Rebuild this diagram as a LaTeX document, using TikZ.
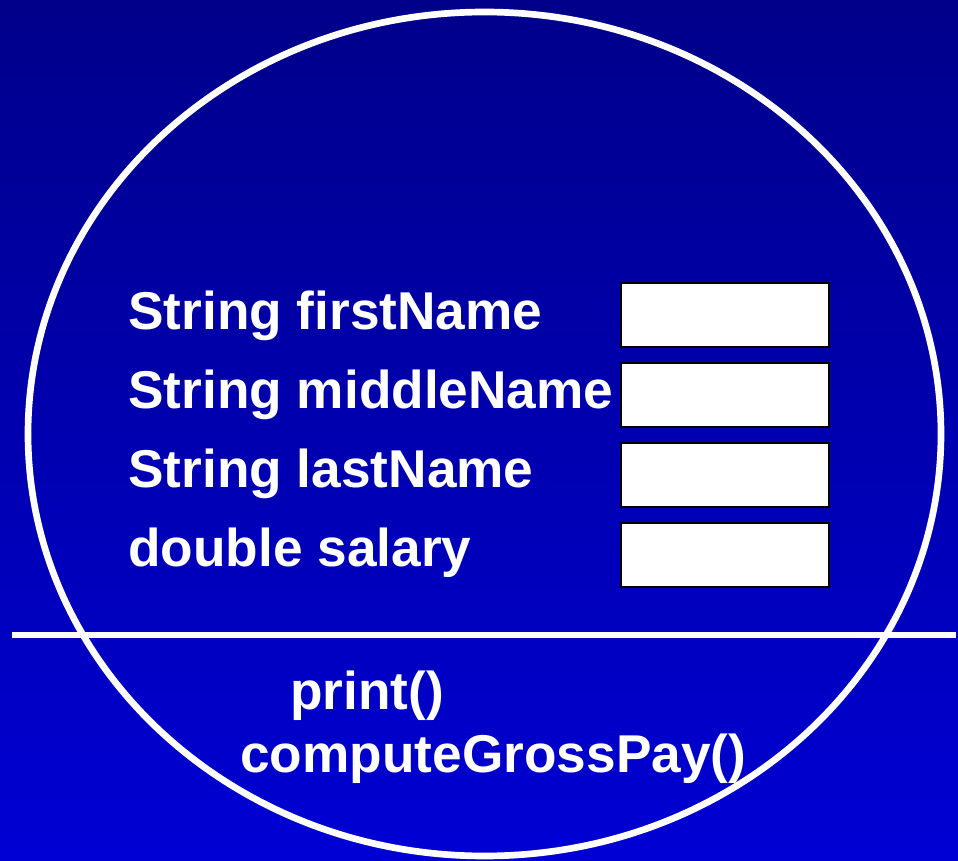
\documentclass[tikz,border=0pt]{standalone}
\usepackage{fontspec}
\setmainfont{Liberation Sans}
\usetikzlibrary{positioning}
\definecolor{slidenavy}{RGB}{0,0,138}
\definecolor{slideblue}{RGB}{0,0,212}
\tikzset{
  membertext/.style={anchor=base west, inner sep=0pt, text=white, font=\fontsize{30.3}{36}\selectfont\bfseries},
  valuebox/.style={draw=black, fill=white, line width=0.8pt, minimum width=4.16cm, minimum height=1.28cm, inner sep=0pt},
}
\begin{document}
\begin{tikzpicture}[x=0.02cm, y=-0.02cm]
%
\shade[top color=slidenavy, bottom color=slideblue] (0,0) rectangle (958,861);
\useasboundingbox (0,0) rectangle (958,861);

%
\draw[white, line width=3.8pt] (484.5,434) ellipse [x radius=456.5, y radius=422];
\coordinate (divleft) at (12,635);
\coordinate (divright) at (956,635);
\draw[white, line width=3.8pt] (divleft) -- (divright);

%
\node[membertext] (first) at (128,330) {String firstName};
\node[membertext] (middle) at (128,409) {String middleName};
\node[membertext] (last) at (128,488) {String lastName};
\node[membertext] (salary) at (128,567) {double salary};

%
\node[valuebox] (firstbox) at (725,315) {};
\node[valuebox] (middlebox) at (725,395) {};
\node[valuebox] (lastbox) at (725,475) {};
\node[valuebox] (salarybox) at (725,555) {};

%
\node[membertext] (print) at (290,710) {print()};
\node[membertext] (gross) at (240,773) {computeGrossPay()};

\end{tikzpicture}
\end{document}
